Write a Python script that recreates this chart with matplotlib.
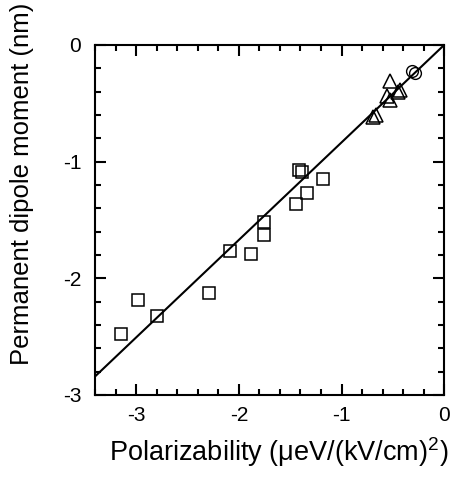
import matplotlib
matplotlib.use("Agg")
import matplotlib.pyplot as plt
import numpy as np
from matplotlib.ticker import MultipleLocator

plt.rcParams["font.family"] = ["Liberation Sans", "DejaVu Sans"]
plt.rcParams["mathtext.fontset"] = "custom"
plt.rcParams["mathtext.rm"] = "Liberation Sans"
plt.rcParams["axes.unicode_minus"] = False

# square markers
sq_x = [-3.15, -2.98, -2.80, -2.29, -2.09, -1.88, -1.75, -1.75, -1.44, -1.34, -1.41, -1.38, -1.18]
sq_y = [-2.48, -2.19, -2.32, -2.13, -1.77, -1.79, -1.52, -1.63, -1.36, -1.27, -1.07, -1.09, -1.15]
# triangle markers
tr_x = [-0.53, -0.45, -0.43, -0.56, -0.53, -0.69, -0.66]
tr_y = [-0.31, -0.40, -0.39, -0.44, -0.47, -0.62, -0.60]
# circle markers
ci_x = [-0.31, -0.28]
ci_y = [-0.22, -0.24]
# linear fit through origin
fit_slope = 0.836
fit_x = [-3.4, 0.0]

fig = plt.figure(figsize=(4.57, 4.78), dpi=100)
ax = fig.add_axes([0.208, 0.174, 0.764, 0.732])

ax.plot(fit_x, [fit_slope * v for v in fit_x], color="black", lw=1.5)
ax.plot(sq_x, sq_y, "s", mfc="none", mec="black", ms=8, mew=1.1)
ax.plot(tr_x, tr_y, "^", mfc="none", mec="black", ms=10.5, mew=1.1)
ax.plot(ci_x, ci_y, "o", mfc="none", mec="black", ms=8.5, mew=1.0)

ax.set_xlim(-3.4, 0)
ax.set_ylim(-3, 0)
ax.xaxis.set_major_locator(MultipleLocator(1))
ax.xaxis.set_minor_locator(MultipleLocator(0.2))
ax.yaxis.set_major_locator(MultipleLocator(1))
ax.yaxis.set_minor_locator(MultipleLocator(0.2))
ax.tick_params(which="both", direction="in", top=True, right=True, width=1.5)
ax.tick_params(which="major", length=8, labelsize=15)
ax.tick_params(axis="x", which="major", pad=8)
ax.tick_params(axis="y", which="major", pad=10)
ax.tick_params(which="minor", length=4.5)
for s in ax.spines.values():
    s.set_linewidth(1.5)

ax.set_xlabel("Polarizability (μeV/(kV/cm)$^2$)", fontsize=19.5)
ax.set_ylabel("Permanent dipole moment (nm)", fontsize=18.5)
ax.xaxis.set_label_coords(0.527, -0.115)
ax.yaxis.set_label_coords(-0.175, 0.603)

plt.savefig("out.png", dpi=100)
